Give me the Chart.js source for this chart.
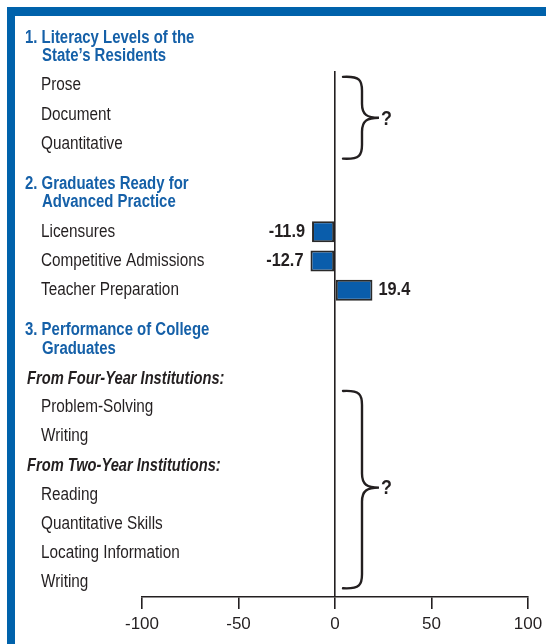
<!DOCTYPE html>
<html><head><meta charset="utf-8">
<style>html,body{margin:0;padding:0;background:#fff;}#wrap{width:546px;height:644px;position:relative;}</style>
<script src="https://cdn.jsdelivr.net/npm/chart.js@4/dist/chart.umd.min.js"></script>
</head><body><div id="wrap"><canvas id="c" width="546" height="644"></canvas></div>
<script>
// ---- data ----
const rowLabels = [
  ['1. Literacy Levels of the', 'State\u2019s Residents'],
  'Prose', 'Document', 'Quantitative',
  '',
  ['2. Graduates Ready for', 'Advanced Practice'],
  'Licensures', 'Competitive Admissions', 'Teacher Preparation',
  '',
  ['3. Performance of College', 'Graduates'],
  'From Four-Year Institutions:',
  'Problem-Solving', 'Writing',
  'From Two-Year Institutions:',
  'Reading', 'Quantitative Skills', 'Locating Information', 'Writing'
];
const rowKinds = [
  'heading', 'item', 'item', 'item', 'blank',
  'heading', 'item', 'item', 'item', 'blank',
  'heading', 'sub', 'item', 'item', 'sub', 'item', 'item', 'item', 'item'
];
const values = [
  null, null, null, null, null,
  null, -11.9, -12.7, 19.4, null,
  null, null, null, null, null, null, null, null, null
];
const xTicks = [-100, -50, 0, 50, 100];
// groups of rows whose values are unknown (marked with a brace and "?")
const unknownGroups = [['Prose', 'Quantitative'], ['Problem-Solving', 'Writing']];

// ---- styling ----
const F = '"Liberation Sans", Arial, Helvetica, sans-serif';
const INK = '#231f20';
const BLUE = '#1560a8';
const FRAME = '#0062ab';

function drawScaled(ctx, text, x, y, font, sx, align) {
  ctx.save();
  ctx.font = font;
  ctx.textAlign = align || 'left';
  ctx.textBaseline = 'middle';
  ctx.translate(x, y);
  ctx.scale(sx, 1);
  ctx.fillText(text, 0, 0);
  ctx.restore();
}

const framePlugin = {
  id: 'frame',
  beforeDraw(chart) {
    const ctx = chart.ctx;
    ctx.save();
    ctx.fillStyle = '#ffffff';
    ctx.fillRect(0, 0, chart.width, chart.height);
    ctx.fillStyle = FRAME;
    ctx.fillRect(7, 7, chart.width - 7, 9);
    ctx.fillRect(7, 7, 8, chart.height - 7);
    ctx.restore();
  }
};

const textPlugin = {
  id: 'rowText',
  afterDraw(chart) {
    const ctx = chart.ctx;
    const ys = chart.scales.y;
    const xs = chart.scales.x;
    ctx.save();
    rowLabels.forEach((lab, i) => {
      const y = ys.getPixelForValue(i);
      const k = rowKinds[i];
      if (k === 'heading') {
        ctx.fillStyle = BLUE;
        drawScaled(ctx, lab[0], 25, y - 18.5, 'bold 18px ' + F, 0.83);
        drawScaled(ctx, lab[1], 42, y, 'bold 18px ' + F, 0.83);
      } else if (k === 'sub') {
        ctx.fillStyle = INK;
        drawScaled(ctx, lab, 27, y + 1, 'italic bold 18px ' + F, 0.815);
      } else if (k === 'item') {
        ctx.fillStyle = INK;
        drawScaled(ctx, lab, 41, y, '17.5px ' + F, 0.875);
      }
    });
    // value labels
    const meta = chart.getDatasetMeta(0);
    ctx.fillStyle = INK;
    meta.data.forEach((el, i) => {
      const v = values[i];
      if (v === null || v === undefined) return;
      if (v < 0) drawScaled(ctx, v.toFixed(1), el.x - 7, el.y, 'bold 19px ' + F, 0.86, 'right');
      else drawScaled(ctx, v.toFixed(1), el.x + 6, el.y, 'bold 19px ' + F, 0.86, 'left');
    });
    // braces with "?"
    const step = Math.abs(ys.getPixelForValue(2) - ys.getPixelForValue(1));
    const x0 = xs.getPixelForValue(0);
    ctx.strokeStyle = INK;
    ctx.lineWidth = 2.4;
    ctx.lineCap = 'round';
    unknownGroups.forEach((g, gi) => {
      const a = rowLabels.indexOf(g[0]);
      const b = rowLabels.lastIndexOf(g[1]);
      const yT = ys.getPixelForValue(a) - (gi === 0 ? 0.3 : 0.55) * step;
      const yB = ys.getPixelForValue(b) + (gi === 0 ? 0.5 : 0.2) * step;
      const yM = (yT + yB) / 2 - (gi === 0 ? 0 : 2);
      const xe = x0 + 8, xm = x0 + 27, xt = x0 + 44;
      const r = 14;
      ctx.beginPath();
      ctx.moveTo(xe, yT);
      ctx.bezierCurveTo(xm - 2, yT - 1, xm, yT + 4, xm, yT + r);
      ctx.lineTo(xm, yM - r);
      ctx.bezierCurveTo(xm, yM - 3, xm + 5, yM, xt, yM);
      ctx.bezierCurveTo(xm + 5, yM, xm, yM + 3, xm, yM + r);
      ctx.lineTo(xm, yB - r);
      ctx.bezierCurveTo(xm, yB - 4, xm - 2, yB + 1, xe, yB);
      ctx.stroke();
      ctx.fillStyle = INK;
      drawScaled(ctx, '?', xt + 2, yM + 1, 'bold 21px ' + F, 0.85, 'left');
    });
    ctx.restore();
  }
};

new Chart(document.getElementById('c'), {
  type: 'bar',
  data: {
    labels: rowLabels,
    datasets: [{
      data: values,
      backgroundColor: '#0a5dab',
      borderColor: '#2a2a2a',
      borderWidth: 2,
      borderSkipped: false,
      barPercentage: 0.72,
      categoryPercentage: 1
    }]
  },
  options: {
    indexAxis: 'y',
    responsive: false,
    animation: false,
    devicePixelRatio: 1,
    layout: { padding: { left: 142, right: 18, top: 71, bottom: 0 } },
    plugins: { legend: { display: false }, tooltip: { enabled: false } },
    scales: {
      y: {
        type: 'category',
        min: rowLabels.indexOf('Prose'),
        display: false,
        offset: true
      },
      x: {
        type: 'linear',
        min: -100, max: 100,
        afterBuildTicks(scale) { scale.ticks = xTicks.map(v => ({ value: v })); },
        afterFit(scale) { scale.height = 47; scale.paddingLeft = 0; scale.paddingRight = 0; },
        border: { display: true, color: INK, width: 1.6 },
        grid: {
          drawOnChartArea: true,
          drawTicks: true,
          tickLength: 12,
          tickColor: INK,
          tickWidth: 1.6,
          lineWidth: 1.6,
          color: (c) => (c.tick && c.tick.value === 0) ? INK : 'rgba(0,0,0,0)'
        },
        ticks: {
          color: INK,
          padding: 5,
          font: { family: F, size: 17 },
          callback: (v) => String(v)
        }
      }
    }
  },
  plugins: [framePlugin, textPlugin]
});
</script>
</body></html>
